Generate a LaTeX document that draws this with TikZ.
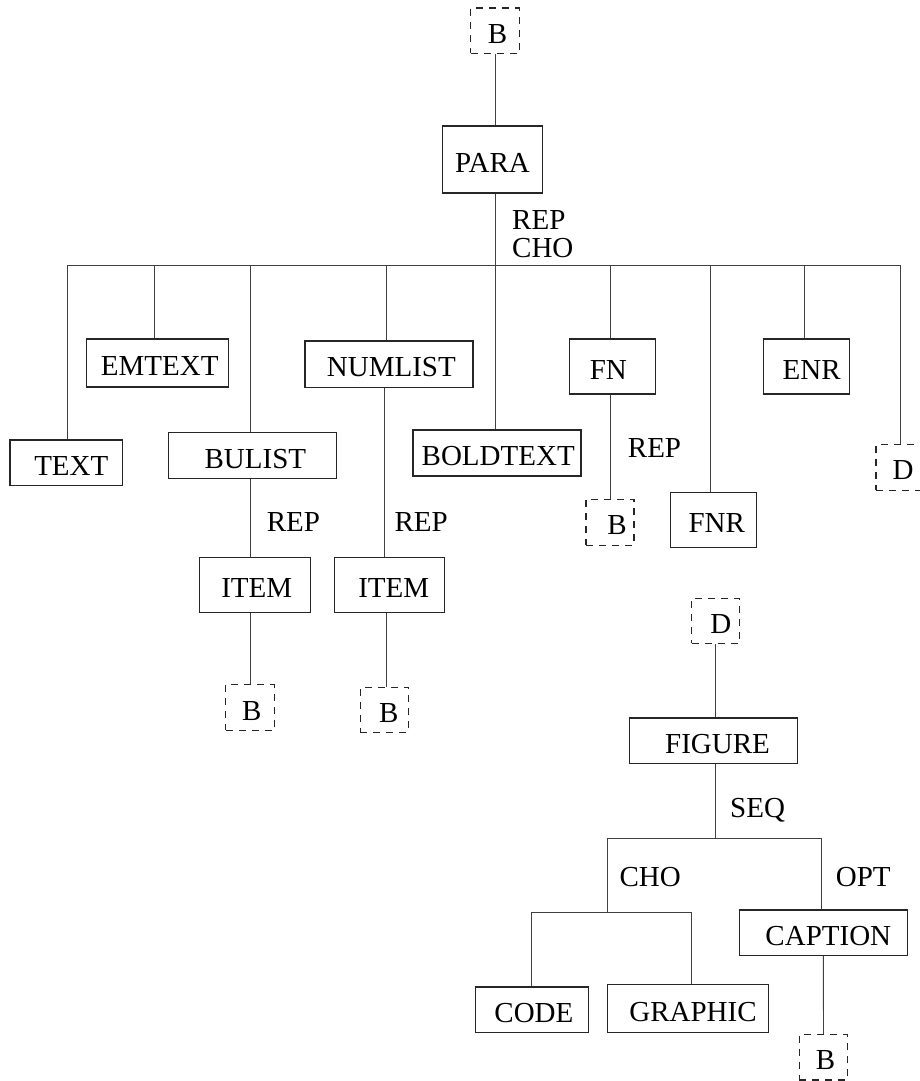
\documentclass[tikz,border=0pt]{standalone}
\usepackage{fontspec}
\setmainfont{Liberation Serif}
\begin{document}
\begin{tikzpicture}[x=1pt,y=-1pt,
  bx/.style={draw=black!85, line width=1.1pt, inner sep=0pt, text height=25.2pt, text depth=0pt,
    font=\fontsize{29}{29}\selectfont},
  dbx/.style={bx, dash pattern=on 7pt off 6pt},
  lbl/.style={inner sep=0pt, anchor=west, text height=19.2pt, text depth=0pt,
    font=\fontsize{29}{29}\selectfont},
  ln/.style={line width=0.9pt, draw=black!75},
  sx/.style={execute at begin node={\hspace*{#1pt}}},
  wh/.style 2 args={minimum width=#1pt, minimum height=#2pt}]
\useasboundingbox (0,0) rectangle (920,1081);

% ---- top part ----
\node[dbx, wh={48.3}{45.3}, sx=5.2] (bT) at (494.9,30.7) {B};
\node[bx, wh={100}{67}, sx=0] (para) at (492.5,159.5) {PARA};
\node[lbl] (rep0) at (512,220) {REP};
\node[lbl] (cho0) at (512,247.6) {CHO};

\node[bx, wh={112.7}{45.7}, sx=10] (text) at (66.3,462.8) {TEXT};
\node[bx, wh={141.6}{48}, sx=4.4] (emtext) at (157.5,363) {EMTEXT};
\node[bx, wh={168}{46}, sx=6] (bulist) at (252.4,455.4) {BULIST};
\node[bx, wh={168}{46.4}, sx=4.8] (numlist) at (389,364.2) {NUMLIST};
\node[bx, wh={168}{46}, sx=2.4] (boldtext) at (497,453) {BOLDTEXT};
\node[bx, wh={86.5}{55}, sx=-8] (fn) at (612.3,366.5) {FN};
\node[bx, wh={86.3}{55}, sx=7.2] (fnr) at (713.2,519.8) {FNR};
\node[bx, wh={86.3}{55}, sx=10] (enr) at (806.7,366.5) {ENR};
\node[dbx, wh={48}{45.7}, sx=6] (dR) at (900,467.2) {D};

\node[lbl] (rep1) at (266.7,521.7) {REP};
\node[bx, wh={110.7}{55}, sx=4] (item1) at (254.7,584.8) {ITEM};
\node[dbx, wh={48.6}{45.3}, sx=3.4] (b1) at (250,707.4) {B};

\node[lbl] (rep2) at (394.3,521.7) {REP};
\node[bx, wh={110.3}{55}, sx=9] (item2) at (389.2,584.8) {ITEM};
\node[dbx, wh={48}{45.3}, sx=8.8] (b2) at (384.3,709.7) {B};

\node[lbl] (rep3) at (627.7,447.7) {REP};
\node[dbx, wh={48}{46}, sx=14] (b3) at (610,522.3) {B};

% bus coordinates
\coordinate (c1) at (67.7,265);
\coordinate (c2) at (154,265);
\coordinate (c3) at (250.6,265);
\coordinate (c4) at (386.7,265);
\coordinate (c5) at (495,265);
\coordinate (c6) at (610,265);
\coordinate (c7) at (710.7,265);
\coordinate (c8) at (804.6,265);
\coordinate (c9) at (900,265);
\coordinate (n1) at (384.4,390);

\draw[ln] (c5 |- bT.south) -- (c5 |- para.north);
\draw[ln] (c5 |- para.south) -- (c5);
\draw[ln] (c1) -- (c9);
\draw[ln] (c1) -- (c1 |- text.north);
\draw[ln] (c2) -- (c2 |- emtext.north);
\draw[ln] (c3) -- (c3 |- bulist.north);
\draw[ln] (c4) -- (c4 |- numlist.north);
\draw[ln] (c5) -- (c5 |- boldtext.north);
\draw[ln] (c6) -- (c6 |- fn.north);
\draw[ln] (c7) -- (c7 |- fnr.north);
\draw[ln] (c8) -- (c8 |- enr.north);
\draw[ln] (c9) -- (c9 |- dR.north);

\draw[ln] (c3 |- bulist.south) -- (c3 |- item1.north);
\draw[ln] (c3 |- item1.south) -- (c3 |- b1.north);
\draw[ln] (n1 |- numlist.south) -- (n1 |- item2.north);
\draw[ln] (c4 |- item2.south) -- (c4 |- b2.north);
\draw[ln] (c6 |- fn.south) -- (c6 |- b3.north);

% ---- figure part ----
\node[dbx, wh={47.6}{45}, sx=10.6] (d2) at (715.5,620.8) {D};
\node[bx, wh={168.3}{45.7}, sx=8.6] (figure) at (713.2,740.8) {FIGURE};
\node[lbl] (seq) at (730,808.3) {SEQ};
\node[lbl] (cho1) at (619.3,876.7) {CHO};
\node[lbl] (opt) at (835.7,876.7) {OPT};
\node[bx, wh={168}{45.7}, sx=10] (caption) at (823.3,932.8) {CAPTION};
\node[dbx, wh={48.4}{45.3}, sx=4] (bB) at (823.5,1057.3) {B};
\node[bx, wh={112.7}{45.7}, sx=4.4] (code) at (531.7,1009.8) {CODE};
\node[bx, wh={160.6}{48}, sx=10] (graphic) at (688,1008.7) {GRAPHIC};

\coordinate (f0) at (715.7,838);
\coordinate (f1) at (607.7,838);
\coordinate (f2) at (821,838);
\coordinate (g0) at (607.7,912.3);
\coordinate (g1) at (531,912.3);
\coordinate (g2) at (691.3,912.3);

\draw[ln] (f0 |- d2.south) -- (f0 |- figure.north);
\draw[ln] (f0 |- figure.south) -- (f0);
\draw[ln] (f1) -- (f2);
\draw[ln] (f1) -- (g0);
\draw[ln] (g1) -- (g2);
\draw[ln] (g1) -- (g1 |- code.north);
\draw[ln] (g2) -- (g2 |- graphic.north);
\draw[ln] (f2) -- (f2 |- caption.north);
\draw[ln] (caption.south) -- (bB.north);
\end{tikzpicture}
\end{document}
